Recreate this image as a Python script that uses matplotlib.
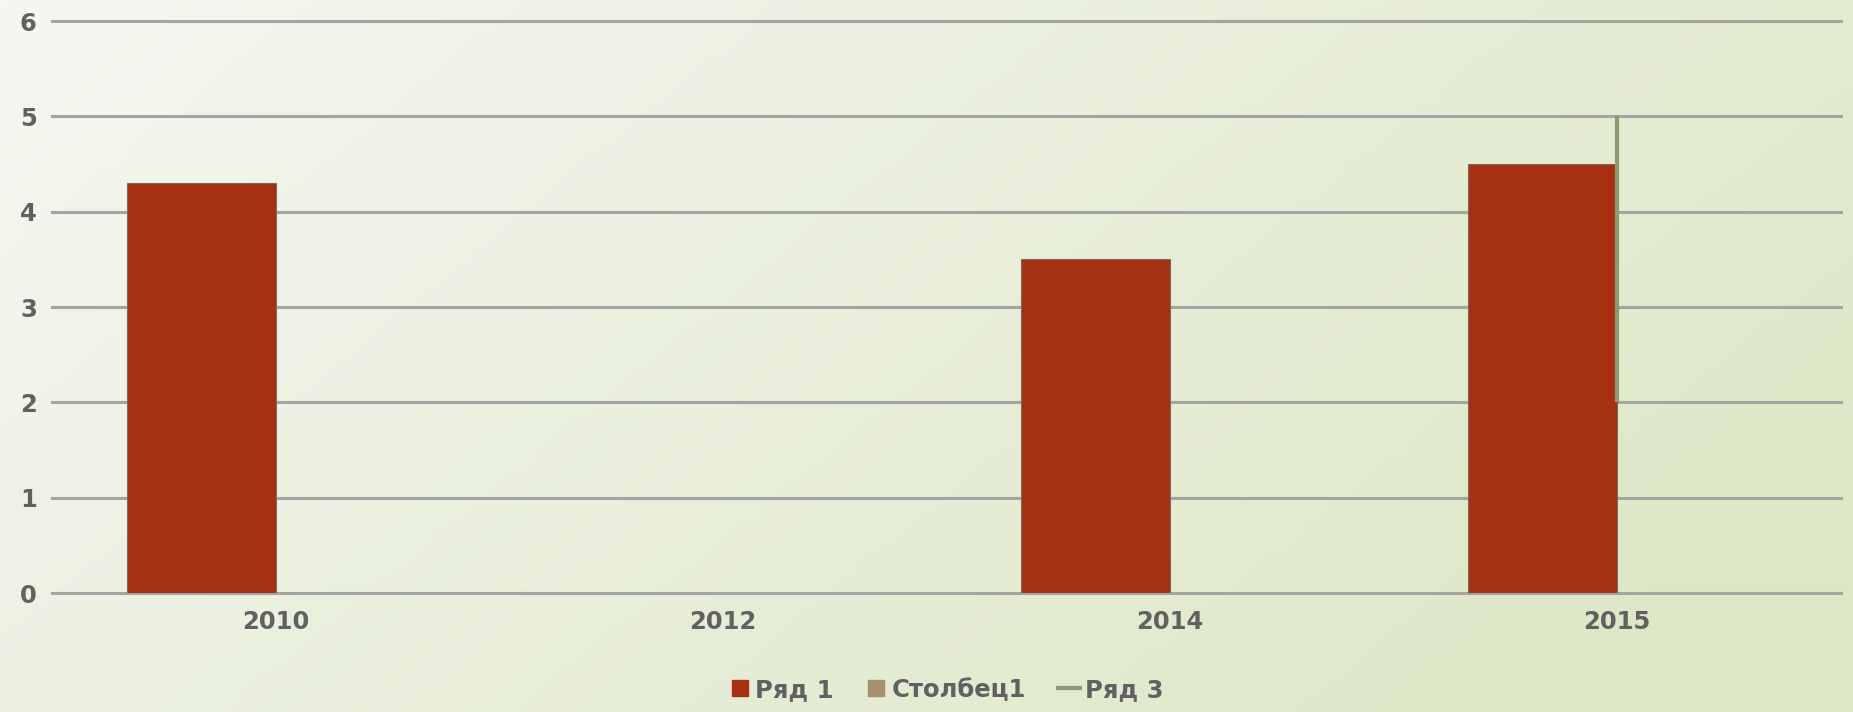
import numpy as np
import matplotlib
matplotlib.use('Agg')
import matplotlib.pyplot as plt
from matplotlib.lines import Line2D

# data
years = ['2010', '2012', '2014', '2015']
row1 = [4.3, np.nan, 3.5, 4.5]          # Ряд 1
col1 = [np.nan, np.nan, np.nan, np.nan]  # Столбец1 (no visible bars)
row3_cat = ['2015', '2015']              # Ряд 3 (drawn as a vertical stroke)
row3_val = [2, 5]
yticks = [0, 1, 2, 3, 4, 5, 6]

red = '#a63012'
tan = '#a39170'
olive = '#8e9a72'
text_col = '#616161'
grid_col = '#a4a4a0'

plt.rcParams['font.family'] = ['DejaVu Sans']

fig = plt.figure(figsize=(18.53, 7.12), dpi=100)

# background gradient (light top-left -> greenish bottom-right)
bg = fig.add_axes([0, 0, 1, 1], zorder=-10)
xx, yy = np.meshgrid(np.linspace(0, 1, 200), np.linspace(0, 1, 80))
t = np.clip(0.75 * xx + 0.35 * yy, 0, 1)[..., None]
c0 = np.array([245, 247, 241]) / 255.0
c1 = np.array([221, 231, 198]) / 255.0
bg.imshow(c0 * (1 - t) + c1 * t, aspect='auto', extent=[0, 1, 0, 1], origin='upper')
bg.axis('off')

ax = fig.add_axes([0.0281, 0.1671, 0.9652, 0.8034])
ax.patch.set_alpha(0)

x = np.arange(len(years))
w = 1 / 3
ax.bar(x - w / 2, row1, width=w, color=red, edgecolor='#7a6a60', linewidth=0.8, zorder=3)
ax.bar(x + w / 2, col1, width=w, color=tan, zorder=3)

pos = {y: i for i, y in enumerate(years)}
ax.plot([pos[c] for c in row3_cat], row3_val, color=olive, linewidth=3, zorder=4,
        solid_capstyle='butt')

ax.set_xlim(-0.5, len(years) - 0.5)
ax.set_ylim(0, 6)
ax.set_yticks(yticks)
ax.set_xticks(x)
ax.set_xticklabels(years)
ax.yaxis.grid(True, color=grid_col, linewidth=2.2, zorder=0)
for gl in ax.get_ygridlines():
    gl.set_clip_on(False)
ax.set_axisbelow(True)
for s in ax.spines.values():
    s.set_visible(False)
ax.tick_params(axis='both', length=0, labelsize=17.5, labelcolor=text_col)
ax.tick_params(axis='y', pad=11)
ax.tick_params(axis='x', pad=12)
for lab in ax.get_xticklabels() + ax.get_yticklabels():
    lab.set_fontweight('bold')

handles = [
    Line2D([], [], marker='s', linestyle='none', markersize=12, color=red),
    Line2D([], [], marker='s', linestyle='none', markersize=12, color=tan),
    Line2D([], [], color=olive, linewidth=3),
]
leg = fig.legend(handles, ['Ряд 1', 'Столбец1', 'Ряд 3'], loc='center',
                 bbox_to_anchor=(0.5105, 0.031), ncol=3, frameon=False,
                 prop={'size': 17.5, 'weight': 'bold'},
                 handlelength=0.9, handletextpad=0.2, columnspacing=1.3)
for txt in leg.get_texts():
    txt.set_color(text_col)

fig.savefig('out.png', dpi=100)
